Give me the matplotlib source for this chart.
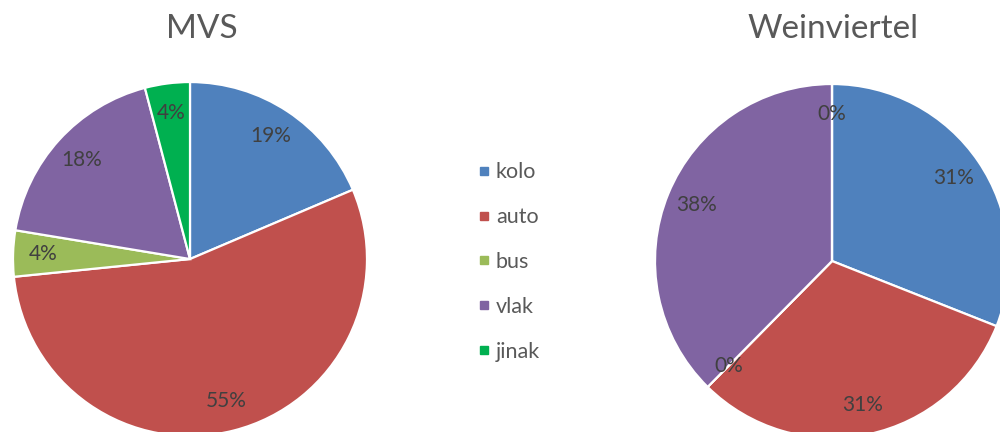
import matplotlib
matplotlib.use("Agg")
import matplotlib.pyplot as plt
from matplotlib.lines import Line2D

plt.rcParams['font.family'] = ['Lato', 'DejaVu Sans']

categories = ["kolo", "auto", "bus", "vlak", "jinak"]
mvs_values = [18.6, 54.8, 4.2, 18.3, 4.1]
wein_values = [31.0, 31.4, 0, 37.6, 0]
titles = ["MVS", "Weinviertel"]
colors = ["#4F81BD", "#C0504D", "#9BBB59", "#8064A2", "#00B050"]

fig = plt.figure(figsize=(10, 4.32), dpi=100)

def draw(rect, values):
    ax = fig.add_axes(rect)
    ax.pie(values, colors=colors, startangle=90, counterclock=False,
           autopct=lambda p: f"{p:.0f}%", pctdistance=0.83,
           wedgeprops=dict(edgecolor="white", linewidth=1.6),
           textprops=dict(color="#404040", fontsize=15))
    ax.set_xlim(-1.0, 1.0)
    ax.set_ylim(-1.0, 1.0)
    ax.set_aspect("equal")
    ax.axis("off")
    return ax

draw([0.013, -0.0093, 0.354, 0.8194], mvs_values)
draw([0.655, -0.0139, 0.354, 0.8194], wein_values)

fig.text(0.202, 1 - 29 / 432, titles[0], ha="center", va="center",
         fontsize=24, color="#595959")
fig.text(0.833, 1 - 29 / 432, titles[1], ha="center", va="center",
         fontsize=24, color="#595959")

handles = [Line2D([], [], marker="s", linestyle="none", markersize=6,
                  markerfacecolor=c, markeredgecolor=c) for c in colors]
fig.legend(handles, categories, loc="center left",
           bbox_to_anchor=(0.456, 1 - 262 / 432), frameon=False,
           fontsize=15.5, labelspacing=1.15, handlelength=0.8,
           handletextpad=0.15, labelcolor="#595959")

fig.savefig("out.png", dpi=100)
